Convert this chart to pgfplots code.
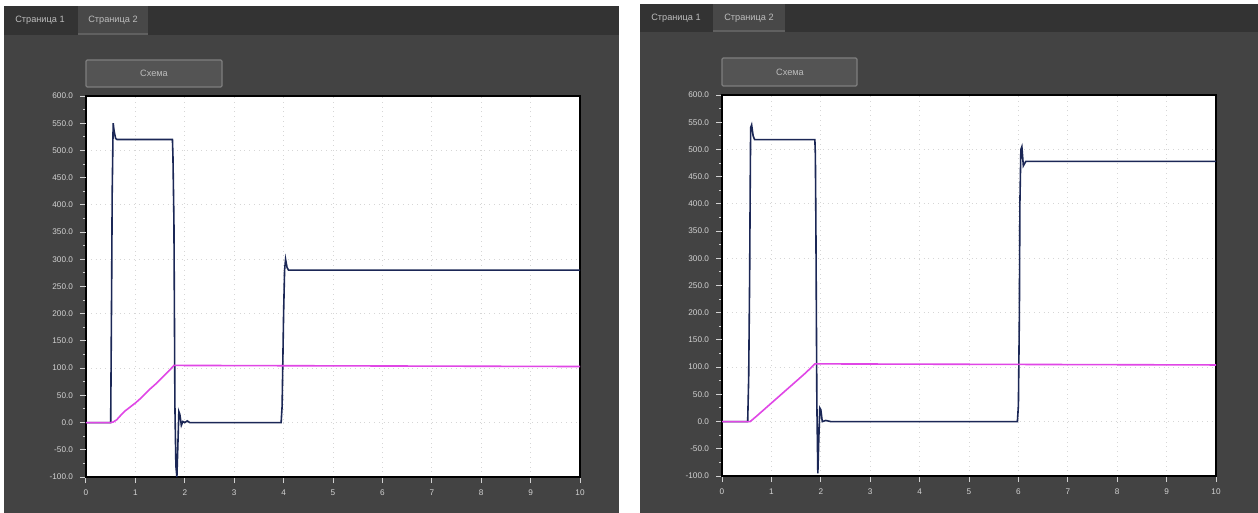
\documentclass[border=0pt]{standalone}
\usepackage{fontspec}
\setmainfont{Liberation Sans}
\usepackage{pgfplots}
\pgfplotsset{compat=1.18}
\definecolor{panel}{HTML}{434343}
\definecolor{tabbar}{HTML}{333333}
\definecolor{tabsel}{HTML}{484848}
\definecolor{tabline}{HTML}{606060}
\definecolor{lbl}{HTML}{D2D2D2}
\definecolor{tabtxt}{HTML}{BDBDBD}
\definecolor{navy}{HTML}{1B2756}
\definecolor{pinkl}{HTML}{E046E6}
\definecolor{btn}{HTML}{545454}
\definecolor{btnb}{HTML}{7E7E7E}
\definecolor{gridc}{HTML}{D6D6D6}

\pgfplotsset{panelaxis/.style={
  scale only axis, width=247pt, height=190.5pt, anchor=south west,
  xmin=0, xmax=10, ymin=-100, ymax=600,
  xtick={0,...,10}, ytick={-100,0,...,600}, minor y tick num=3,
  xtick pos=bottom, ytick pos=left,
  tick align=outside, major tick length=3pt, minor tick length=1.6pt,
  tick style={lbl, line width=0.5pt},
  axis line style={black, line width=0.8pt},
  axis background/.style={fill=white},
  tick label style={font=\fontsize{4.1}{5}\selectfont, text=lbl},
  /pgf/number format/assume math mode=true,
  yticklabel style={/pgf/number format/.cd, fixed, fixed zerofill, precision=1, assume math mode=true},
  xticklabel style={/pgf/number format/.cd, assume math mode=true},
  xmajorgrids, ymajorgrids, major grid style={gridc, dotted, line width=0.45pt},
  extra y ticks={-50,50,150,250,350,450,550},
  extra y tick style={ymajorgrids=false, xmajorgrids=false,
     yticklabel style={/pgf/number format/.cd, fixed, fixed zerofill, precision=1, assume math mode=true}},
  clip=true,
}}

\begin{document}
\begin{tikzpicture}
\begin{scope}[x=0.5pt, y=-0.5pt]
  \fill[white] (0,0) rectangle (1258,513);
  % left panel
  \fill[panel] (4,6) rectangle (619,513);
  \fill[tabbar] (4,6) rectangle (619,35);
  \fill[tabsel] (78,6) rectangle (148,35);
  \fill[tabline] (78,33) rectangle (148,35);
  \node[text=tabtxt, font=\fontsize{4.6}{5}\selectfont] at (40,20) {Страница 1};
  \node[text=tabtxt, font=\fontsize{4.6}{5}\selectfont] at (113,20) {Страница 2};
  \draw[btnb, fill=btn, line width=0.6pt, rounded corners=0.6pt] (86,60) rectangle (222,87);
  \node[text=tabtxt, font=\fontsize{4.6}{5}\selectfont] at (154,73.5) {Схема};
  % right panel
  \fill[panel] (640,4) rectangle (1258,513);
  \fill[tabbar] (640,4) rectangle (1258,32);
  \fill[tabsel] (713,4) rectangle (785,32);
  \fill[tabline] (713,30) rectangle (785,32);
  \node[text=tabtxt, font=\fontsize{4.6}{5}\selectfont] at (676,18) {Страница 1};
  \node[text=tabtxt, font=\fontsize{4.6}{5}\selectfont] at (749,18) {Страница 2};
  \draw[btnb, fill=btn, line width=0.6pt, rounded corners=0.6pt] (722,58) rectangle (857,86);
  \node[text=tabtxt, font=\fontsize{4.6}{5}\selectfont] at (790,72) {Схема};
\end{scope}

\begin{axis}[panelaxis, at={(43pt,-238.5pt)}]
\addplot[navy, line width=0.8pt, sharp plot] coordinates {
(0,0) (0.5,0) (0.52,260) (0.53,420) (0.55,550) (0.57,535) (0.6,522) (0.63,520)
(1.75,520) (1.76,490) (1.78,370) (1.8,30) (1.82,-80) (1.84,-100) (1.86,-40)
(1.88,20) (1.9,15) (1.93,-5) (1.96,2) (2.0,0) (2.05,3) (2.1,0)
(3.95,0) (3.97,30) (4.0,200) (4.02,280) (4.04,300) (4.07,285) (4.1,280) (10,280)};
\addplot[pinkl, line width=0.8pt, sharp plot] coordinates {
(0,0) (0.5,0) (0.55,1) (0.62,5) (0.7,13) (0.8,22) (0.9,29) (1.0,36) (1.1,44)
(1.2,53) (1.3,62) (1.4,70) (1.5,79) (1.6,88) (1.7,97) (1.78,105) (10,103)};
\end{axis}

\begin{axis}[panelaxis, at={(361pt,-238pt)}]
\addplot[navy, line width=0.8pt, sharp plot] coordinates {
(0,0) (0.52,0) (0.54,80) (0.56,270) (0.57,420) (0.58,540) (0.6,545) (0.63,525) (0.66,518)
(1.88,518) (1.89,490) (1.9,370) (1.92,35) (1.94,-95) (1.96,-30) (1.98,25) (2.0,22)
(2.03,0) (2.1,2) (2.2,0)
(5.98,0) (6.0,30) (6.02,200) (6.03,400) (6.05,500) (6.07,505) (6.1,470) (6.15,478) (10,478)};
\addplot[pinkl, line width=0.8pt, sharp plot] coordinates {
(0,0) (0.57,0) (0.7,10) (0.9,26) (1.1,42) (1.3,58) (1.5,74) (1.7,90) (1.88,106) (10,104)};
\end{axis}

\pgfresetboundingbox
\path[x=0.5pt, y=-0.5pt] (0,0) rectangle (1258,513);
\end{tikzpicture}
\end{document}
